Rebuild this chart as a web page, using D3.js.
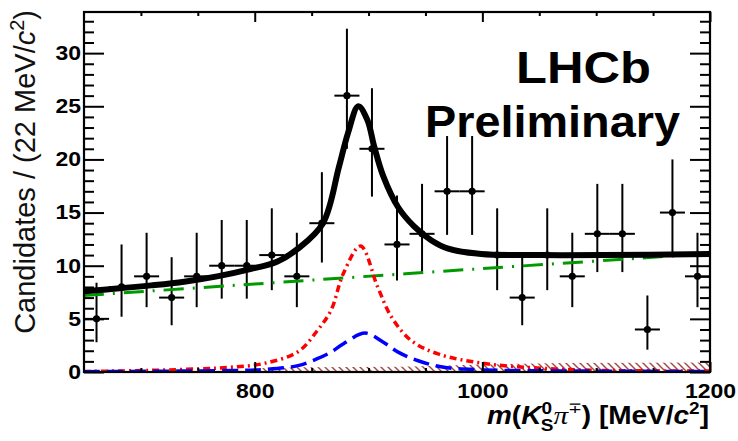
<!DOCTYPE html>
<html>
<head>
<meta charset="utf-8">
<script src="https://cdn.jsdelivr.net/npm/d3@7"></script>
<style>
  body { margin: 0; background: #fff; }
  svg { display: block; font-family: "Liberation Sans", Arial, sans-serif; }
</style>
</head>
<body>
<div id="chart"></div>
<script>
// bin centres (22 MeV bins) and counts
var binCentres = [661, 683, 705, 727, 749, 771, 793, 815, 837, 859, 881, 903, 925,
                  947, 969, 991, 1013, 1035, 1057, 1079, 1101, 1123, 1145, 1167, 1189];
var counts = [5, 8, 9, 7, 9, 10, 10, 11, 9, 14, 26, 21, 12,
              13, 17, 17, 11, 7, 11, 9, 13, 13, 4, 15, 9];
var errLow = [2.2, 2.8, 2.9, 2.6, 2.9, 3.1, 3.1, 3.3, 2.9, 3.7, 5.0, 4.5, 3.4,
              3.6, 4.1, 4.1, 3.3, 2.6, 3.3, 2.9, 3.6, 3.6, 1.9, 3.8, 2.9];
var errHigh = [3.4, 4.0, 4.1, 3.8, 4.1, 4.3, 4.3, 4.4, 4.1, 4.8, 6.3, 5.7, 4.6,
               4.7, 5.2, 5.2, 4.4, 3.8, 4.4, 4.1, 4.7, 4.7, 3.2, 5.0, 4.1];

// fit curves, [mass, candidates]
var totalFit = [[650, 7.6], [679, 7.85], [709, 8.15], [738, 8.5], [767, 9.0], [797, 9.7],
                [820, 10.4], [838, 11.6], [860, 14.0], [874, 19.3], [882, 22.5], [891, 25.0],
                [899, 23.7], [905, 21.2], [913, 18.4], [926, 15.5], [940, 13.7], [955, 12.4],
                [970, 11.6], [999, 11.1], [1052, 11.0], [1105, 11.0], [1200, 11.1]];
var background = [[650, 7.2], [800, 8.28], [1000, 9.73], [1200, 11.15]];
var signalRed = [[650, 0.05], [708, 0.15], [752, 0.3], [779, 0.45], [808, 0.8], [838, 1.9],
                 [855, 3.9], [867, 5.8], [878, 9.3], [893, 11.85], [908, 8.0], [920, 5.2],
                 [937, 3.0], [961, 1.7], [1002, 0.8], [1052, 0.35], [1105, 0.15], [1200, 0.1]];
var signalBlue = [[650, 0.03], [779, 0.14], [808, 0.24], [838, 0.6], [855, 1.25], [867, 1.87],
                  [878, 2.66], [897, 3.66], [913, 2.8], [926, 1.87], [943, 1.08], [966, 0.45],
                  [1001, 0.2], [1105, 0.08], [1200, 0.05]];
var hatched = [[802, 0.0], [802.5, 0.35], [840, 0.45], [928, 0.5], [1000, 0.7], [1070, 0.85], [1200, 0.9]];

var xMajor = [800, 1000, 1200];
var xMinor = [700, 750, 850, 900, 950, 1050, 1100, 1150];
var yMajor = [0, 5, 10, 15, 20, 25, 30];
var yMinor = [1, 2, 3, 4, 6, 7, 8, 9, 11, 12, 13, 14, 16, 17, 18, 19,
              21, 22, 23, 24, 26, 27, 28, 29, 31, 32, 33];

var W = 738, H = 441;
var mLeft = 84, mRight = 710, mTop = 12, mBottom = 372;
var stretch = 1.15;

var svg = d3.select("#chart").append("svg")
    .attr("width", W)
    .attr("height", H);

var x = d3.scaleLinear().domain([650, 1200]).range([mLeft, mRight]);
var y = d3.scaleLinear().domain([0, 33.87]).range([mBottom, mTop]);

var defs = svg.append("defs");
var pat = defs.append("pattern")
    .attr("id", "hatch")
    .attr("patternUnits", "userSpaceOnUse")
    .attr("width", 7).attr("height", 7);
pat.append("path")
    .attr("d", "M0,0 L7,7 M-1,6 L1,8 M6,-1 L8,1")
    .attr("stroke", "#a3453f")
    .attr("stroke-width", 1.4);

defs.append("clipPath").attr("id", "plotclip")
    .append("rect")
    .attr("x", mLeft).attr("y", mTop)
    .attr("width", mRight - mLeft).attr("height", mBottom - mTop);

var plot = svg.append("g").attr("clip-path", "url(#plotclip)");

// hatched component
plot.append("path")
    .datum(hatched)
    .attr("fill", "url(#hatch)")
    .attr("d", d3.area()
        .curve(d3.curveLinear)
        .x(function (d) { return x(d[0]); })
        .y0(y(0))
        .y1(function (d) { return y(d[1]); }));

// data points with errors
var pts = plot.append("g");
binCentres.forEach(function (m, i) {
    var g = pts.append("g");
    g.append("line")
        .attr("x1", x(m)).attr("x2", x(m))
        .attr("y1", y(counts[i] - errLow[i])).attr("y2", y(counts[i] + errHigh[i]))
        .attr("stroke", "#000").attr("stroke-width", 2);
    g.append("line")
        .attr("x1", x(m - 11)).attr("x2", x(m + 11))
        .attr("y1", y(counts[i])).attr("y2", y(counts[i]))
        .attr("stroke", "#000").attr("stroke-width", 2);
    g.append("circle")
        .attr("cx", x(m)).attr("cy", y(counts[i]))
        .attr("r", 3.6).attr("fill", "#000");
});

var line = d3.line()
    .curve(d3.curveCatmullRom.alpha(0.5))
    .x(function (d) { return x(d[0]); })
    .y(function (d) { return y(d[1]); });

plot.append("path").datum(background)
    .attr("d", line).attr("fill", "none")
    .attr("stroke", "#009a00").attr("stroke-width", 3)
    .attr("stroke-dasharray", "20,9,2,9");

plot.append("path").datum(signalRed)
    .attr("d", line).attr("fill", "none")
    .attr("stroke", "#ff0000").attr("stroke-width", 3.5)
    .attr("stroke-dasharray", "7,4,2,4");

plot.append("path").datum(signalBlue)
    .attr("d", line).attr("fill", "none")
    .attr("stroke", "#0000ff").attr("stroke-width", 3.5)
    .attr("stroke-dasharray", "16,7");

plot.append("path").datum(totalFit)
    .attr("d", line).attr("fill", "none")
    .attr("stroke", "#000").attr("stroke-width", 6)
    .attr("stroke-linejoin", "round");

// frame
svg.append("rect")
    .attr("x", mLeft).attr("y", mTop)
    .attr("width", mRight - mLeft).attr("height", mBottom - mTop)
    .attr("fill", "none").attr("stroke", "#000").attr("stroke-width", 2.2);

function styleAxis(g) {
    g.select(".domain").remove();
    g.selectAll(".tick line").attr("stroke", "#000").attr("stroke-width", 2);
}

// y axes (ticks inward)
svg.append("g").attr("transform", "translate(" + mLeft + ",0)")
    .call(d3.axisLeft(y).tickValues(yMinor).tickSize(-10).tickFormat(""))
    .call(styleAxis);
var yAx = svg.append("g").attr("transform", "translate(" + mLeft + ",0)")
    .call(d3.axisLeft(y).tickValues(yMajor).tickSize(-20).tickPadding(3).tickFormat(d3.format("d")))
    .call(styleAxis);
yAx.selectAll(".tick text")
    .attr("x", -3 / stretch)
    .attr("transform", "scale(" + stretch + ",1)")
    .attr("font-size", 20).attr("font-weight", "bold")
    .attr("font-family", "Liberation Sans, Arial, sans-serif")
    .attr("fill", "#000");
svg.append("g").attr("transform", "translate(" + mRight + ",0)")
    .call(d3.axisRight(y).tickValues(yMinor).tickSize(-10).tickFormat(""))
    .call(styleAxis);
svg.append("g").attr("transform", "translate(" + mRight + ",0)")
    .call(d3.axisRight(y).tickValues(yMajor).tickSize(-20).tickFormat(""))
    .call(styleAxis);

// x axes
svg.append("g").attr("transform", "translate(0," + mBottom + ")")
    .call(d3.axisBottom(x).tickValues(xMinor).tickSize(-4).tickFormat(""))
    .call(styleAxis);
var xAx = svg.append("g").attr("transform", "translate(0," + mBottom + ")")
    .call(d3.axisBottom(x).tickValues(xMajor).tickSize(-10).tickPadding(12).tickFormat(d3.format("d")))
    .call(styleAxis);
xAx.selectAll(".tick text")
    .attr("transform", "scale(" + stretch + ",1)")
    .attr("font-size", 20).attr("font-weight", "bold")
    .attr("font-family", "Liberation Sans, Arial, sans-serif")
    .attr("fill", "#000");
svg.append("g").attr("transform", "translate(0," + mTop + ")")
    .call(d3.axisTop(x).tickValues(xMinor).tickSize(-4).tickFormat(""))
    .call(styleAxis);
svg.append("g").attr("transform", "translate(0," + mTop + ")")
    .call(d3.axisTop(x).tickValues(xMajor).tickSize(-10).tickFormat(""))
    .call(styleAxis);

// y title
var yt = svg.append("text")
    .attr("transform", "translate(35," + (mTop - 2) + ") rotate(-90)")
    .attr("text-anchor", "end")
    .attr("font-size", 29)
    .attr("fill", "#111");
yt.append("tspan").text("Candidates / (22 MeV/");
yt.append("tspan").attr("font-style", "italic").text("c");
yt.append("tspan").attr("font-size", 20).attr("dy", -11).text("2");
yt.append("tspan").attr("dy", 11).text(")");

// x title
var xt = svg.append("text")
    .attr("transform", "translate(709,424) scale(1.12,1)")
    .attr("text-anchor", "end")
    .attr("font-size", 25)
    .attr("font-weight", "bold")
    .attr("fill", "#000");
xt.append("tspan").attr("font-style", "italic").text("m");
xt.append("tspan").text("(");
xt.append("tspan").attr("font-style", "italic").text("K");
xt.append("tspan").attr("font-size", 17).attr("dy", -10).text("0");
xt.append("tspan").attr("font-size", 17).attr("dx", -10).attr("dy", 17).text("S");
xt.append("tspan").attr("dy", -7).attr("font-style", "italic").attr("font-weight", "normal")
    .attr("font-family", "Liberation Serif, serif").attr("font-size", 26).text("\u03c0");
xt.append("tspan").attr("font-size", 15).attr("font-weight", "normal").attr("dy", -11).text("\u2213");
xt.append("tspan").attr("dy", 11).text(") [MeV/");
xt.append("tspan").attr("font-style", "italic").text("c");
xt.append("tspan").attr("font-size", 17).attr("dy", -10).text("2");
xt.append("tspan").attr("dy", 10).text("]");

// LHCb label
svg.append("text")
    .attr("x", 516).attr("y", 83)
    .attr("font-size", 44).attr("font-weight", "bold")
    .attr("textLength", 135).attr("lengthAdjust", "spacingAndGlyphs")
    .text("LHCb");
svg.append("text")
    .attr("x", 425).attr("y", 137)
    .attr("font-size", 45).attr("font-weight", "bold")
    .attr("textLength", 255).attr("lengthAdjust", "spacingAndGlyphs")
    .text("Preliminary");
</script>
</body>
</html>
